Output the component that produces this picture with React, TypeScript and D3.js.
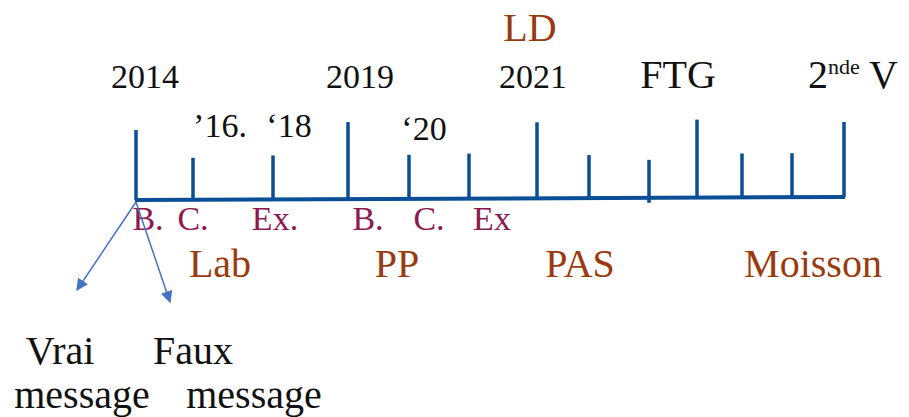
import React from "react";
import * as d3 from "d3";

// Timeline ticks: offset along the axis (time units) and tick height
const tickOffsets = [0, 57, 137, 212, 273, 333, 401, 453, 513, 561, 606, 656, 708];
const tickHeights = [70, 42, 44, 77, 44, 45, 76, 43, 38, 78, 44, 44, 75];
const tickBelow = [0, 0, 0, 0, 0, 0, 0, 0, 5, 0, 0, 0, 0];

const yearLabels = ["2014", "2019", "2021"];
const yearOffsets = [9, 224, 397];
const shortLabels = ["\u201916.", "\u201818", "\u201820"];
const shortOffsets = [84, 153, 288];
const phaseLabels = ["B.", "C.", "Ex.", "B.", "C.", "Ex"];
const phaseOffsets = [12, 57, 139, 232, 293, 356];
const groupLabels = ["Lab", "PP", "PAS", "Moisson"];
const groupOffsets = [84, 261, 444, 677];

const TS: React.CSSProperties = { fontFamily: "Liberation Serif" };
const BLUE = "#0A4E95";
const PURPLE = "#8C1A4E";
const BROWN = "#993B0F";
const ARROW = "#4472C4";

export default function App() {
  const x = d3.scaleLinear().domain([0, 708]).range([136, 844]);
  const yBase = d3.scaleLinear().domain([0, 708]).range([200, 197]);

  return (
    <svg width={909} height={417} style={{ position: "absolute", left: 0, top: 0, background: "#fff" }}>
      <defs>
        <marker id="arr" viewBox="0 0 10 10" refX="9" refY="5" markerWidth="8" markerHeight="8" orient="auto">
          <path d="M0,0 L10,5 L0,10 z" fill={ARROW} />
        </marker>
      </defs>

      <line x1={x(0) - 1} y1={yBase(0)} x2={x(708) + 1} y2={yBase(708)} stroke={BLUE} strokeWidth={4} />
      {tickOffsets.map((t, i) => (
        <line
          key={i}
          x1={x(t)}
          x2={x(t)}
          y1={yBase(t) + tickBelow[i]}
          y2={yBase(t) - tickHeights[i]}
          stroke={BLUE}
          strokeWidth={3.5}
        />
      ))}

      <text style={TS} x={530} y={41} fontSize={40} fill={BROWN} textAnchor="middle">LD</text>
      {yearLabels.map((s, i) => (
        <text style={TS} key={s} x={x(yearOffsets[i])} y={88} fontSize={34} textAnchor="middle" fill="#111">{s}</text>
      ))}
      <text style={TS} x={678} y={88} fontSize={40} textAnchor="middle" fill="#111">FTG</text>
      <text style={TS} x={808} y={88} fontSize={40} fill="#111">
        2<tspan fontSize={22} dy={-14}>nde</tspan><tspan dy={14}> V</tspan>
      </text>
      {shortLabels.map((s, i) => (
        <text style={TS} key={s} x={x(shortOffsets[i])} y={i === 2 ? 140 : 137} fontSize={34} textAnchor="middle" fill="#111">{s}</text>
      ))}

      {phaseLabels.map((s, i) => (
        <text style={TS} key={i} x={x(phaseOffsets[i])} y={230} fontSize={34} textAnchor="middle" fill={PURPLE}>{s}</text>
      ))}
      {groupLabels.map((s, i) => (
        <text style={TS} key={s} x={x(groupOffsets[i])} y={277} fontSize={40} textAnchor="middle" fill={BROWN}>{s}</text>
      ))}

      <line x1={136} y1={202} x2={77} y2={290} stroke={ARROW} strokeWidth={1.5} markerEnd="url(#arr)" />
      <line x1={136} y1={202} x2={170} y2={302} stroke={ARROW} strokeWidth={1.5} markerEnd="url(#arr)" />

      <text style={TS} x={60} y={364} fontSize={40} textAnchor="middle" fill="#111">Vrai</text>
      <text style={TS} x={193} y={364} fontSize={40} textAnchor="middle" fill="#111">Faux</text>
      <text style={TS} x={82} y={408} fontSize={40} textAnchor="middle" fill="#111">message</text>
      <text style={TS} x={254} y={408} fontSize={40} textAnchor="middle" fill="#111">message</text>
    </svg>
  );
}
